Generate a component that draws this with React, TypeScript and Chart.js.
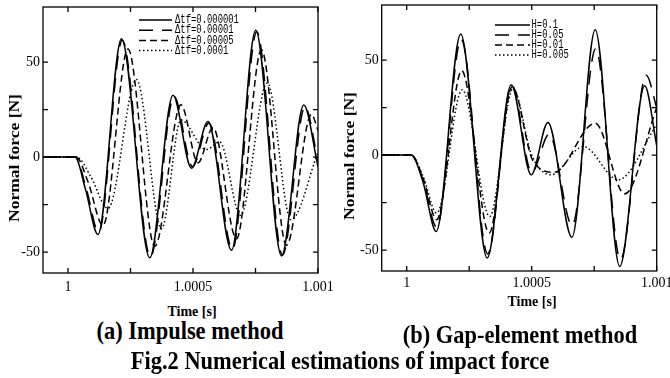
import React, { useEffect, useRef } from 'react';
import { Chart, registerables } from 'chart.js';

Chart.register(...registerables);

// ---- axis ticks ----
const xTickValues = [1, 1.00025, 1.0005, 1.00075, 1.001];
const xTickLabels = ['1', '', '1.0005', '', '1.001'];
const yTickValues = [-50, -25, 0, 25, 50];
const yTickLabels = ['-50', '', '0', '', '50'];
const xMin = 0.9999;
const xMax = 1.001;
const yMin = -61;
const yMax = 79;

// ---- (a) Impulse method ----
const impulseLabels = ['Δtf=0.000001', 'Δtf=0.00001', 'Δtf=0.00005', 'Δtf=0.0001'];
const impulseT1 = [0.9999, 1.000028, 1.00007, 1.00012, 1.000214, 1.000327, 1.00042, 1.000494, 1.00056, 1.000654, 1.000751, 1.000854, 1.000943, 1.001];
const impulseF1 = [0, 0, -17, -40.8, 62.3, -53, 32.6, -5.9, 18.7, -49, 66.7, -52, 27.4, -5];
const impulseT2 = [0.9999, 1.00003, 1.000072, 1.000123, 1.000217, 1.00033, 1.000424, 1.000498, 1.000564, 1.000658, 1.000755, 1.000858, 1.000948, 1.001];
const impulseF2 = [0, 0, -16, -39.5, 61.5, -52.5, 32, -5, 18, -48.5, 66, -51.5, 26.5, -2];
const impulseT3 = [0.9999, 1.000032, 1.00008, 1.00014, 1.00024, 1.000347, 1.000452, 1.00052, 1.00058, 1.000674, 1.000774, 1.000874, 1.000974, 1.001];
const impulseF3 = [0, 0, -13, -36, 56.9, -47, 27.5, -3, 15.5, -43, 56.5, -46.4, 22.5, 14];
const impulseT4 = [0.9999, 1.000035, 1.00009, 1.00016, 1.000274, 1.000374, 1.000452, 1.000553, 1.000607, 1.00069, 1.000797, 1.000892, 1.001];
const impulseF4 = [0, 0, -10, -27, 40.8, -37.7, 19.5, 4, 8, -30.7, 39, -33, 2.6];

// ---- (b) Gap-element method ----
const gapLabels = ['H=0.1', 'H=0.05', 'H=0.01', 'H=0.005'];
const gapT1 = [0.9999, 1.000018, 1.000065, 1.000118, 1.000216, 1.000322, 1.000418, 1.000498, 1.000565, 1.000661, 1.000754, 1.000852, 1.000952, 1.001];
const gapF1 = [0, 0, -14, -40.2, 63.7, -54.2, 37, -10.4, 17.2, -43.2, 66, -58.6, 36.5, 5];
const gapT2 = [0.9999, 1.000018, 1.000065, 1.00012, 1.000218, 1.000324, 1.00042, 1.0005, 1.00057, 1.000662, 1.000756, 1.000855, 1.000958, 1.001];
const gapF2 = [0, 0, -13, -38, 61, -52, 37, -9, 11, -37, 56, -55, 42, 25];
const gapT3 = [0.9999, 1.000018, 1.000065, 1.00012, 1.00022, 1.00033, 1.000422, 1.000505, 1.00059, 1.000754, 1.000872, 1.001];
const gapF3 = [0, 0, -12, -34, 44.4, -41, 36, -3, -9, 16.8, -20.4, 25];
const gapT4 = [0.9999, 1.000018, 1.000065, 1.00012, 1.000222, 1.000332, 1.000425, 1.0005, 1.000578, 1.000706, 1.000846, 1.001];
const gapF4 = [0, 0, -11, -30.5, 34.4, -32.3, 35, 0, -10.4, 4.5, -13, 16];

const SERIF = "'Liberation Serif', 'Times New Roman', serif";
const dashes = [[], [14, 9], [7, 4], [1.5, 2.5]];

const framePlugin = {
  id: 'frame',
  afterDraw(chart: any, _args: any, opts: any) {
    const { ctx, chartArea: a, scales } = chart;
    ctx.save();
    ctx.strokeStyle = '#000';
    ctx.lineWidth = 1.3;
    ctx.setLineDash([]);
    ctx.strokeRect(a.left, a.top, a.right - a.left, a.bottom - a.top);
    const L = 5;
    ctx.beginPath();
    scales.x.ticks.forEach((t: any) => {
      const px = scales.x.getPixelForValue(t.value);
      ctx.moveTo(px, a.bottom);
      ctx.lineTo(px, a.bottom - L);
      ctx.moveTo(px, a.top);
      ctx.lineTo(px, a.top + L);
    });
    scales.y.ticks.forEach((t: any) => {
      const py = scales.y.getPixelForValue(t.value);
      ctx.moveTo(a.left, py);
      ctx.lineTo(a.left + L, py);
      ctx.moveTo(a.right, py);
      ctx.lineTo(a.right - L, py);
    });
    ctx.stroke();

    // legend inside plot
    chart.data.datasets.forEach((ds: any, i: number) => {
      const y = a.top + opts.top + i * opts.row;
      const x0 = a.left + opts.left;
      ctx.strokeStyle = '#000';
      ctx.lineWidth = ds.borderWidth;
      ctx.setLineDash(ds.borderDash || []);
      ctx.beginPath();
      ctx.moveTo(x0, y);
      ctx.lineTo(x0 + opts.len, y);
      ctx.stroke();
      ctx.setLineDash([]);
      ctx.save();
      ctx.translate(x0 + opts.len + opts.gap, y);
      ctx.scale(opts.sx, 1);
      ctx.fillStyle = '#000';
      ctx.font = "12px 'Liberation Mono', 'DejaVu Sans Mono', monospace";
      ctx.textBaseline = 'middle';
      ctx.textAlign = 'left';
      ctx.fillText(ds.label, 0, 0);
      ctx.restore();
    });
    ctx.restore();
  },
};

type PanelProps = {
  left: number;
  labels: string[];
  ts: number[][];
  fs: number[][];
  pad: { top: number; right: number };
  yWidth: number;
  xHeight: number;
  xPad: number;
  legend: any;
};

function Panel(p: PanelProps) {
  const ref = useRef<HTMLCanvasElement>(null);
  useEffect(() => {
    const datasets = p.labels.map((label, i) => ({
      label,
      data: p.ts[i].map((t, j) => ({ x: t, y: p.fs[i][j] })),
      borderColor: '#000',
      backgroundColor: '#000',
      borderWidth: 1.5,
      borderDash: dashes[i],
      pointRadius: 0,
      fill: false,
      cubicInterpolationMode: 'monotone' as const,
    }));
    const chart = new Chart(ref.current as HTMLCanvasElement, {
      type: 'line',
      data: { datasets },
      options: {
        responsive: false,
        animation: false,
        events: [],
        layout: { padding: { top: p.pad.top, right: p.pad.right, left: 0, bottom: 0 } },
        plugins: {
          legend: { display: false },
          tooltip: { enabled: false },
          frame: p.legend,
        } as any,
        scales: {
          x: {
            type: 'linear',
            min: xMin,
            max: xMax,
            grid: { display: false, drawTicks: false },
            border: { display: false },
            afterBuildTicks: (s: any) => {
              s.ticks = xTickValues.map((v) => ({ value: v }));
            },
            afterFit: (s: any) => {
              s.height = p.xHeight;
              s.paddingLeft = 0;
              s.paddingRight = 0;
            },
            ticks: {
              autoSkip: false,
              maxRotation: 0,
              padding: p.xPad,
              color: '#000',
              font: { family: SERIF, size: 14 },
              callback: (_v: any, i: number) => xTickLabels[i],
            },
          },
          y: {
            type: 'linear',
            min: yMin,
            max: yMax,
            grid: { display: false, drawTicks: false },
            border: { display: false },
            afterBuildTicks: (s: any) => {
              s.ticks = yTickValues.map((v) => ({ value: v }));
            },
            afterFit: (s: any) => {
              s.width = p.yWidth;
              s.paddingTop = 0;
              s.paddingBottom = 0;
            },
            ticks: {
              autoSkip: false,
              padding: 3,
              color: '#000',
              font: { family: SERIF, size: 14 },
              callback: (_v: any, i: number) => yTickLabels[i],
            },
          },
        },
      },
      plugins: [framePlugin],
    });
    return () => chart.destroy();
  }, []);
  return (
    <canvas
      ref={ref}
      width={335}
      height={300}
      style={{ position: 'absolute', left: p.left, top: 0, width: 335, height: 300, display: 'block' }}
    />
  );
}

const textBase: React.CSSProperties = {
  position: 'absolute',
  whiteSpace: 'nowrap',
  fontFamily: SERIF,
  fontWeight: 'bold',
  color: '#000',
  lineHeight: 1,
};

function Label({ x, y, size, text, rotate, sx }: { x: number; y: number; size: number; text: string; rotate?: boolean; sx?: number }) {
  const s = sx ?? 1;
  return (
    <div
      style={{
        ...textBase,
        left: x,
        top: y,
        fontSize: size,
        transform: rotate
          ? 'translate(-50%,-50%) rotate(-90deg) scaleX(1.25)'
          : `translate(-50%,-50%) scaleX(${s})`,
      }}
    >
      {text}
    </div>
  );
}

export default function App() {
  return (
    <div style={{ position: 'fixed', left: 0, top: 0, width: 670, height: 378, background: '#fff', overflow: 'hidden' }}>
      <Panel
        left={0}
        labels={impulseLabels}
        ts={[impulseT1, impulseT2, impulseT3, impulseT4]}
        fs={[impulseF1, impulseF2, impulseF3, impulseF4]}
        pad={{ top: 7, right: 17 }}
        yWidth={43}
        xHeight={27}
        xPad={6}
        legend={{ top: 13, row: 10.2, left: 96, len: 33, gap: 3, sx: 0.74 }}
      />
      <Panel
        left={335}
        labels={gapLabels}
        ts={[gapT1, gapT2, gapT3, gapT4]}
        fs={[gapF1, gapF2, gapF3, gapF4]}
        pad={{ top: 5, right: 13.3 }}
        yWidth={46.7}
        xHeight={29}
        xPad={4}
        legend={{ top: 20, row: 10, left: 113.3, len: 35, gap: 1.5, sx: 0.74 }}
      />
      <Label x={15} y={158} size={14} text="Normal force [N]" rotate />
      <Label x={350} y={156} size={14} text="Normal force [N]" rotate />
      <Label x={192} y={312} size={14} text="Time [s]" />
      <Label x={532} y={302} size={14} text="Time [s]" />
      <Label x={190} y={331} size={25.5} sx={0.88} text="(a) Impulse method" />
      <Label x={520} y={335} size={25.5} sx={0.88} text="(b) Gap-element method" />
      <Label x={340} y={361} size={25.5} sx={0.88} text="Fig.2 Numerical estimations of impact force" />
    </div>
  );
}
